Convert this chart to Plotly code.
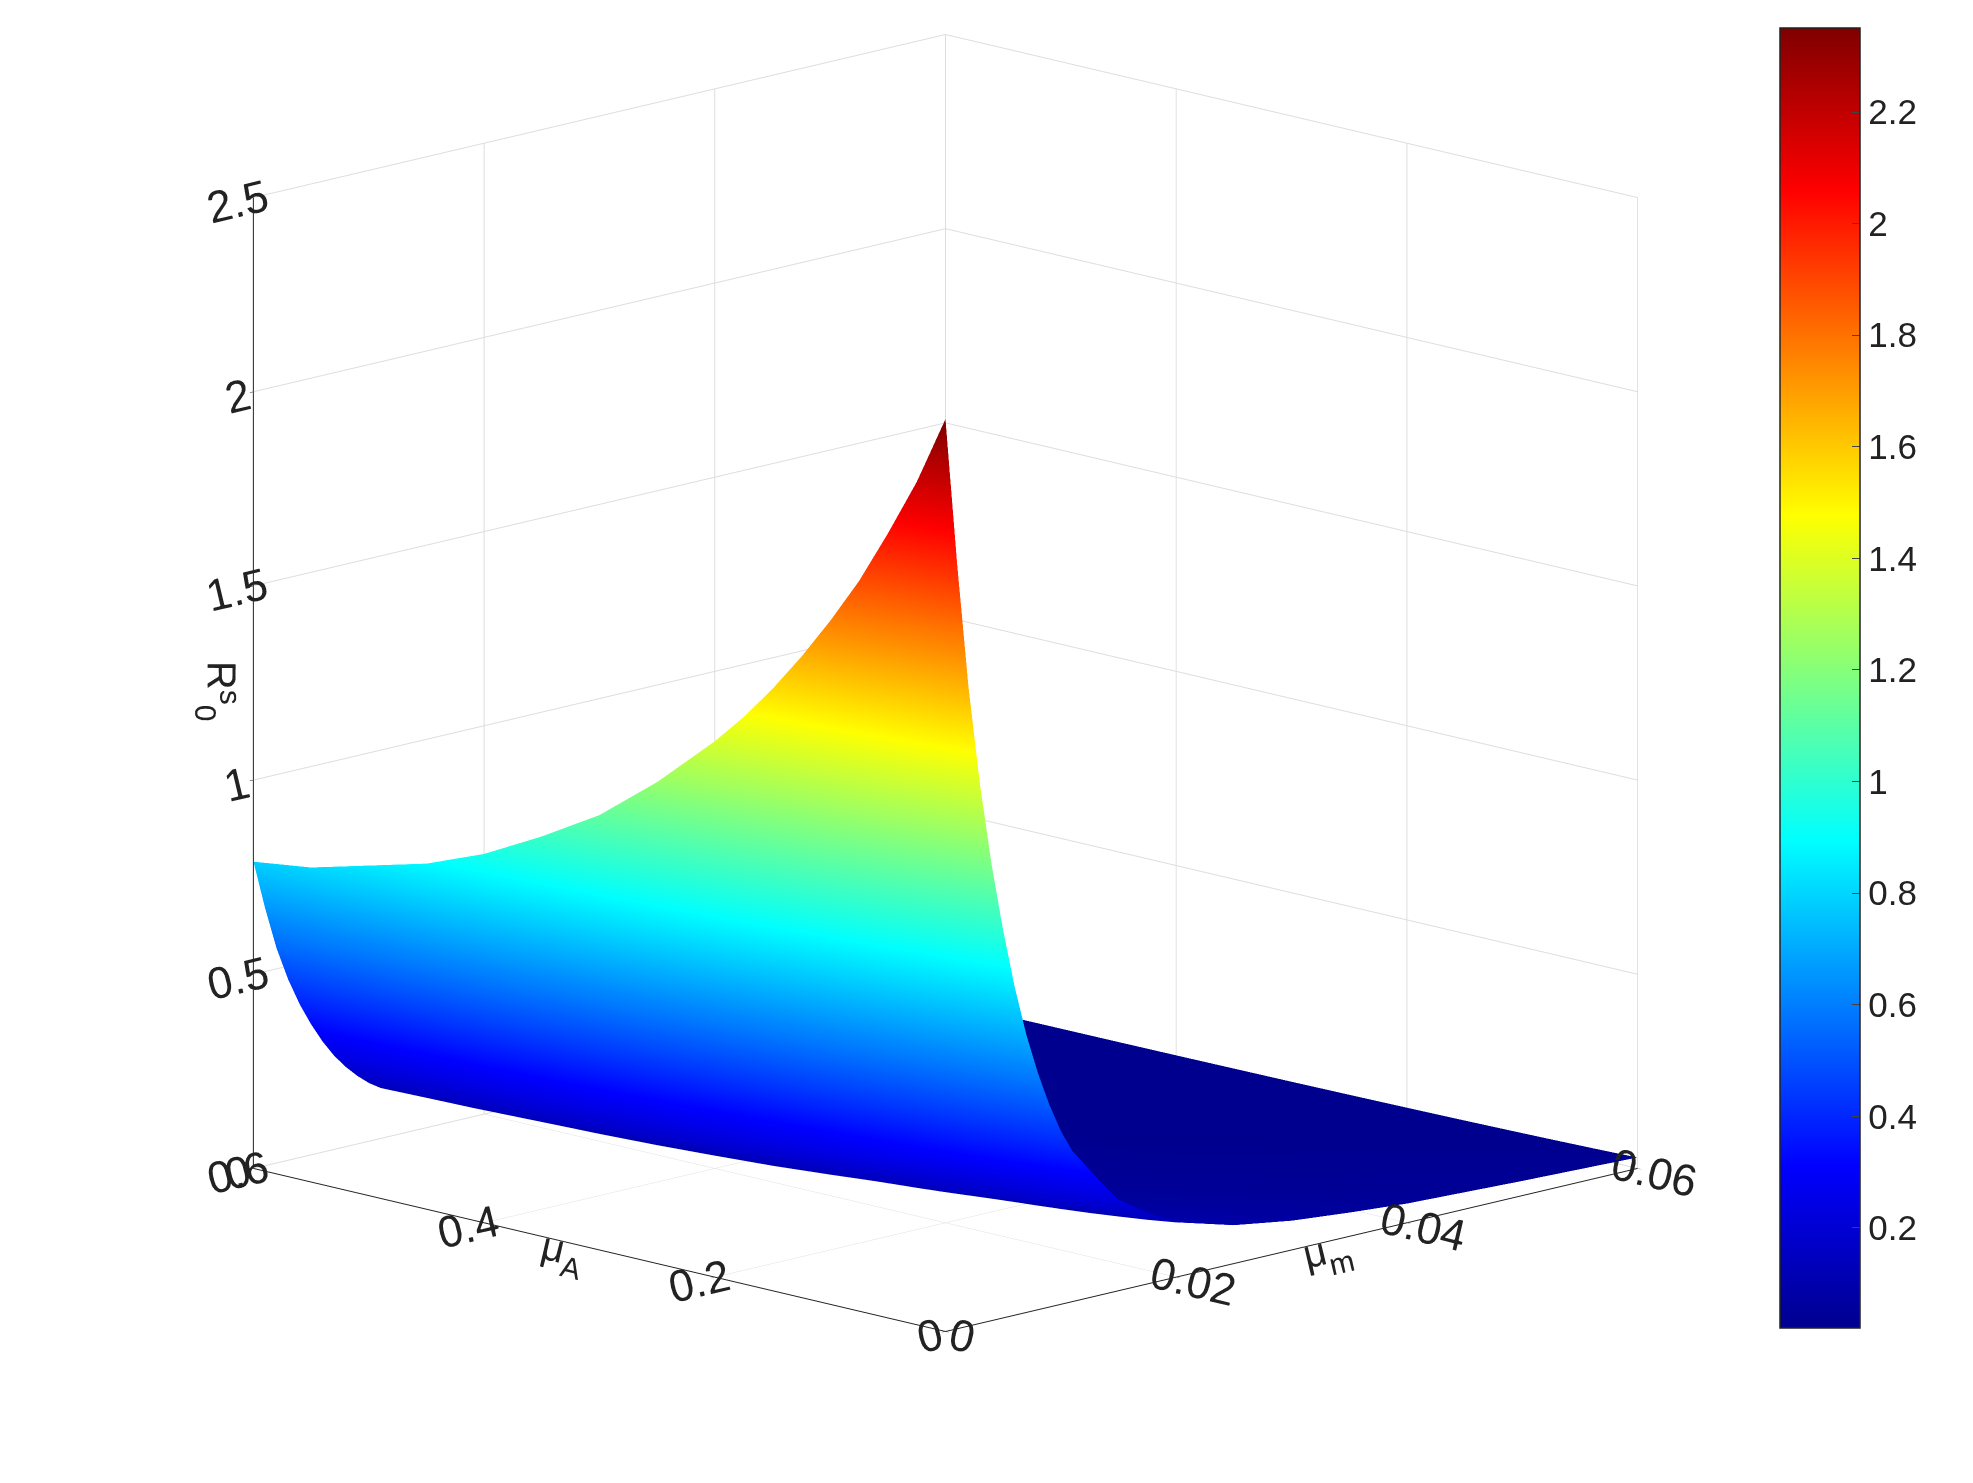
import numpy as np
import plotly.graph_objects as go

mu_m = [0, 0.0005, 0.001, 0.0015, 0.002, 0.0025, 0.003, 0.0035, 0.004, 0.005, 0.006, 0.007, 0.008, 0.009, 0.01,
        0.011, 0.0125, 0.014, 0.015, 0.0175, 0.02, 0.025, 0.03, 0.035, 0.04, 0.05, 0.06]
decay = [1.0, 0.92, 0.84, 0.77, 0.70, 0.645, 0.59, 0.545, 0.50, 0.425, 0.36, 0.305, 0.26, 0.222, 0.19,
         0.165, 0.14, 0.115, 0.10, 0.078, 0.06, 0.042, 0.032, 0.026, 0.021, 0.016, 0.012]
mu_A = [0.0, 0.025, 0.05, 0.075, 0.1, 0.125, 0.15, 0.175, 0.2, 0.225, 0.25, 0.3, 0.35, 0.4, 0.45, 0.5, 0.55, 0.6]
edge = [2.35, 2.17, 2.02, 1.88, 1.76, 1.65, 1.55, 1.46, 1.38, 1.31, 1.24, 1.12, 1.03, 0.95, 0.89, 0.85, 0.81, 0.79]

Z = np.outer(edge, decay)

jet = [[0, "#00008f"], [0.125, "#0000ff"], [0.375, "#00ffff"], [0.5, "#80ff80"],
       [0.625, "#ffff00"], [0.875, "#ff0000"], [1, "#800000"]]

fig = go.Figure(go.Surface(
    x=mu_m, y=mu_A, z=Z, colorscale=jet, cmin=0.02, cmax=2.35, showscale=True,
    lighting=dict(ambient=1, diffuse=0, specular=0, fresnel=0),
    colorbar=dict(tickvals=[0.2, 0.4, 0.6, 0.8, 1, 1.2, 1.4, 1.6, 1.8, 2, 2.2],
                  ticks="inside", ticklen=8, len=0.89, thickness=80,
                  x=0.893, xanchor="left", y=0.548, yanchor="middle",
                  outlinecolor="#222", outlinewidth=1.5,
                  tickfont=dict(size=35, family="Liberation Sans", color="#222"))))

tf = dict(size=23, family="Liberation Sans", color="#222")
ax = dict(showbackground=False, gridcolor="#dddddd", gridwidth=2, showline=True,
          linecolor="#222", linewidth=2, ticks="outside", tickcolor="#222",
          tickfont=tf, zeroline=False, showspikes=False)
titf = dict(size=40, family="Liberation Sans", color="#222")
fig.update_layout(
    width=1973, height=1483, paper_bgcolor="white",
    margin=dict(l=0, r=0, t=0, b=0),
    scene=dict(
        domain=dict(x=[0.055, 0.895], y=[0.09, 1]),
        xaxis=dict(ax, range=[0, 0.06], tickvals=[0, 0.02, 0.04, 0.06],
                   title=dict(text="μ<sub>m</sub>", font=titf)),
        yaxis=dict(ax, range=[0, 0.6], tickvals=[0, 0.2, 0.4, 0.6],
                   title=dict(text="μ<sub>A</sub>", font=titf)),
        zaxis=dict(ax, range=[0, 2.5], tickvals=[0, 0.5, 1, 1.5, 2, 2.5],
                   title=dict(text="R<sup>s</sup><sub>0</sub>", font=titf)),
        aspectmode="manual", aspectratio=dict(x=1.45, y=1.45, z=1.48),
        camera=dict(eye=dict(x=-1.05, y=-1.05, z=0.36), center=dict(x=0, y=0, z=0),
                    projection=dict(type="orthographic")),
    ),
)
fig.write_html("out.html")
